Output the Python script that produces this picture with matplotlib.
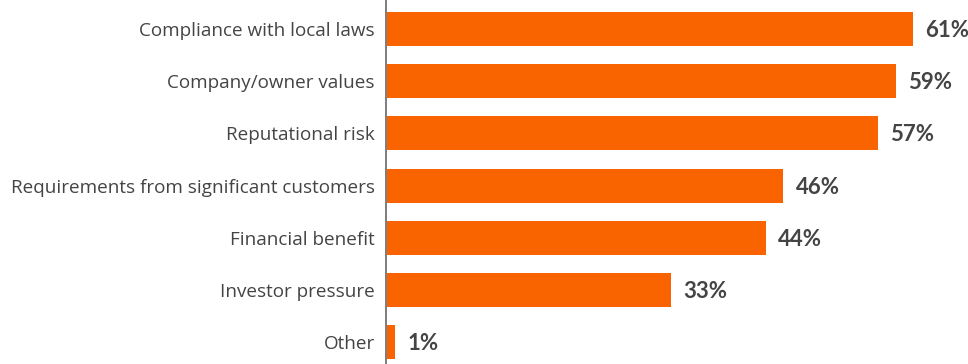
import matplotlib.pyplot as plt

categories = ['Compliance with local laws', 'Company/owner values', 'Reputational risk',
              'Requirements from significant customers', 'Financial benefit',
              'Investor pressure', 'Other']
values = [61, 59, 57, 46, 44, 33, 1]

bar_color = '#F96400'
text_color = '#444444'

fig = plt.figure(figsize=(9.68, 3.64), dpi=100)
ax = fig.add_axes([386 / 968, 0, 1 - 386 / 968, 1])

y = range(len(categories))
ax.barh(y, values, height=0.65, color=bar_color, left=0.1)

# value labels just past the end of each bar
for yi, v in zip(y, values):
    ax.text(v + 1.5, yi + 0.03, '{}%'.format(v), va='center', ha='left',
            fontsize=16, fontweight='bold', color=text_color, family='Lato')

ax.set_yticks(list(y))
ax.set_yticklabels(categories, fontsize=13.6, color=text_color, family='Open Sans')
ax.tick_params(axis='y', length=0, pad=8)
ax.set_xticks([])

ax.set_xlim(0, 67.5)
ax.set_ylim(6.42, -0.556)

for side in ['top', 'right', 'bottom']:
    ax.spines[side].set_visible(False)
ax.spines['left'].set_color('#666666')
ax.spines['left'].set_linewidth(1.2)

fig.savefig('out.png', dpi=100)
